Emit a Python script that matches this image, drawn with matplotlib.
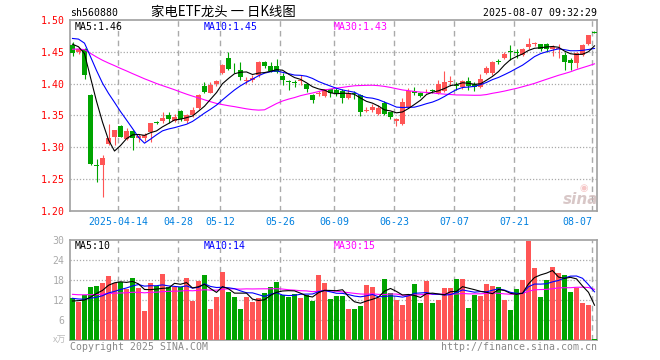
import matplotlib
matplotlib.use("Agg")
import matplotlib.pyplot as plt
import numpy as np

# ---------------- data ----------------
dates = ["04-01","04-02","04-03","04-07","04-08","04-09","04-10","04-11","04-14","04-15",
         "04-16","04-17","04-18","04-21","04-22","04-23","04-24","04-25","04-28","04-29",
         "04-30","05-06","05-07","05-08","05-09","05-12","05-13","05-14","05-15","05-16",
         "05-19","05-20","05-21","05-22","05-23","05-26","05-27","05-28","05-29","05-30",
         "06-03","06-04","06-05","06-06","06-09","06-10","06-11","06-12","06-13","06-16",
         "06-17","06-18","06-19","06-20","06-23","06-24","06-25","06-26","06-27","06-30",
         "07-01","07-02","07-03","07-04","07-07","07-08","07-09","07-10","07-11","07-14",
         "07-15","07-16","07-17","07-18","07-21","07-22","07-23","07-24","07-25","07-28",
         "07-29","07-30","07-31","08-01","08-04","08-05","08-06","08-07"]

opens = [1.460,1.450,1.454,1.382,1.273,1.272,1.305,1.316,1.334,1.313,
         1.325,1.315,1.315,1.324,1.340,1.341,1.351,1.342,1.357,1.341,
         1.350,1.362,1.396,1.386,1.399,1.417,1.441,1.425,1.422,1.404,
         1.406,1.414,1.434,1.427,1.428,1.412,1.404,1.402,1.404,1.400,
         1.382,1.384,1.381,1.391,1.390,1.389,1.378,1.385,1.382,1.357,
         1.358,1.352,1.369,1.355,1.342,1.337,1.363,1.389,1.385,1.388,
         1.390,1.385,1.389,1.402,1.398,1.394,1.404,1.400,1.395,1.417,
         1.416,1.435,1.440,1.451,1.449,1.445,1.457,1.463,1.462,1.462,
         1.454,1.455,1.445,1.437,1.433,1.445,1.462,1.481]
closes = [1.448,1.455,1.414,1.274,1.271,1.284,1.315,1.327,1.317,1.325,
          1.314,1.318,1.320,1.338,1.339,1.346,1.344,1.348,1.344,1.351,
          1.359,1.382,1.387,1.398,1.404,1.429,1.423,1.424,1.410,1.406,
          1.409,1.434,1.428,1.420,1.419,1.405,1.403,1.401,1.406,1.392,
          1.374,1.386,1.391,1.385,1.385,1.378,1.385,1.383,1.356,1.359,
          1.364,1.362,1.353,1.348,1.344,1.371,1.389,1.385,1.381,1.389,
          1.389,1.400,1.403,1.404,1.396,1.404,1.396,1.395,1.408,1.424,
          1.434,1.434,1.447,1.450,1.448,1.454,1.462,1.464,1.454,1.454,
          1.458,1.456,1.434,1.433,1.448,1.460,1.476,1.480]
highs = [1.466,1.458,1.456,1.383,1.281,1.288,1.336,1.328,1.335,1.330,
         1.327,1.321,1.323,1.339,1.341,1.356,1.355,1.352,1.358,1.353,
         1.364,1.384,1.403,1.403,1.406,1.431,1.449,1.433,1.434,1.410,
         1.413,1.436,1.435,1.434,1.438,1.416,1.405,1.405,1.413,1.401,
         1.383,1.389,1.392,1.392,1.393,1.391,1.391,1.389,1.384,1.363,
         1.368,1.366,1.372,1.356,1.346,1.378,1.393,1.395,1.387,1.391,
         1.392,1.406,1.420,1.412,1.403,1.406,1.410,1.402,1.415,1.428,
         1.436,1.438,1.450,1.461,1.455,1.456,1.471,1.466,1.463,1.464,
         1.460,1.463,1.450,1.440,1.449,1.462,1.477,1.482]
lows = [1.443,1.446,1.407,1.272,1.246,1.222,1.304,1.303,1.316,1.311,
        1.296,1.308,1.310,1.308,1.336,1.339,1.338,1.340,1.342,1.339,
        1.348,1.360,1.385,1.385,1.396,1.415,1.421,1.417,1.405,1.399,
        1.402,1.411,1.425,1.418,1.417,1.398,1.390,1.394,1.398,1.387,
        1.369,1.380,1.379,1.379,1.380,1.369,1.376,1.376,1.349,1.355,
        1.356,1.351,1.350,1.344,1.333,1.335,1.362,1.382,1.379,1.385,
        1.385,1.384,1.387,1.396,1.390,1.392,1.390,1.389,1.393,1.415,
        1.414,1.431,1.439,1.437,1.441,1.443,1.455,1.459,1.451,1.450,
        1.443,1.441,1.421,1.421,1.424,1.443,1.460,1.479]
volumes = [12.5,11.5,13.5,16.0,16.2,17.2,19.2,17.2,17.5,15.3,
           18.7,15.5,8.8,17.2,16.2,19.8,16.0,15.8,15.8,18.7,
           11.8,17.8,19.5,9.3,13.0,20.5,14.5,13.0,9.3,13.0,
           11.5,12.5,14.0,16.0,17.5,13.5,13.0,13.7,12.5,13.5,
           11.8,19.5,17.2,12.3,13.2,13.2,9.3,9.3,10.2,16.5,
           15.8,12.5,18.3,14.2,12.0,10.5,13.3,16.8,11.2,17.8,
           11.2,12.0,15.7,15.7,18.3,18.3,9.7,13.5,13.2,16.8,
           16.3,15.9,12.0,9.0,15.3,18.0,29.8,21.6,12.9,18.0,
           21.9,20.0,19.6,14.5,15.7,11.2,10.5,0.3]

# estimated sessions before the visible window (needed for the moving averages)
prev_closes = [1.440,1.445,1.450,1.442,1.438,1.446,1.449,1.447,
               1.444,1.441,1.439,1.443,1.448,1.452,1.445,1.440,1.446,1.450,1.452,1.453,
               1.465,1.478,1.486,1.488,1.483,
               1.475,1.468,1.462,1.457]
prev_volumes = [15.2,13.8,14.6,16.1,13.2,12.9,14.8,15.5,13.6,14.0,
                15.9,13.4,12.7,14.9,15.1,13.3,14.2,14.6,13.9,14.3,
                13.5,14.2,12.8,13.6,12.4,
                11.0,12.5,11.8,10.7]

tick_dates = ["04-14","04-28","05-12","05-26","06-09","06-23","07-07","07-21","08-07"]
tick_labels = ["2025-04-14","04-28","05-12","05-26","06-09","06-23","07-07","07-21","08-07"]
price_ticks = [1.20,1.25,1.30,1.35,1.40,1.45,1.50]
vol_ticks = [6,12,18,24,30]

# ---------------- style ----------------
RED = "#ff5555"
GREEN = "#00a400"
GRID = "#aaaaaa"
FRAME = "#a0a0a0"
MONO = "DejaVu Sans Mono"
CJK = ["Noto Sans CJK SC", "DejaVu Sans"]
FS = 7.1

W, H = 660, 360
fig = plt.figure(figsize=(W/100, H/100), dpi=100)
fig.patch.set_facecolor("white")

def frac(x0, y0, x1, y1):
    return [x0/W, 1 - y1/H, (x1-x0)/W, (y1-y0)/H]

axp = fig.add_axes(frac(70, 20, 597, 211))
axv = fig.add_axes(frac(70, 240, 597, 340))

n = len(dates)
x = np.arange(n)
half = 2.5/6.0
xlim = (-half, n - 1 + (597 - 72.5 - 6*(n-1)) / 6.0)

def ma(values, prev, k):
    full = np.array(list(prev) + list(values), dtype=float)
    off = len(prev)
    return np.array([full[off+i-k+1:off+i+1].mean() for i in range(len(values))])

o = np.array(opens); c = np.array(closes); h = np.array(highs); l = np.array(lows)
v = np.array(volumes)
colors = [RED if cc >= oo else GREEN for oo, cc in zip(o, c)]
bw = 5/6.0
LW = 0.8

for ax in (axp, axv):
    ax.set_xlim(*xlim)
    for s in ax.spines.values():
        s.set_color(FRAME)
        s.set_linewidth(1.2)
    ax.tick_params(axis="both", length=0)
    ax.set_xticks([])
    tick_pos = [dates.index(d) - half for d in tick_dates]
    for tp in tick_pos:
        ax.axvline(tp, color=GRID, lw=1.0, ls=(0, (4, 3)), zorder=0)

# price panel
axp.set_ylim(1.20, 1.50)
for p in price_ticks[1:-1]:
    axp.axhline(p, color=GRID, lw=0.9, ls=(0, (1, 1.5)), zorder=0)
axp.vlines(x, l, h, colors=colors, lw=LW, zorder=2)
body_h = np.maximum(np.abs(c - o), 0.0012)
axp.bar(x, body_h, bottom=np.minimum(o, c), width=bw, color=colors, lw=0, zorder=3)
axp.plot(x, ma(closes, prev_closes, 30), color="#ff00ff", lw=LW, zorder=4)
axp.plot(x, ma(closes, prev_closes, 10), color="#0000ff", lw=LW, zorder=4)
axp.plot(x, ma(closes, prev_closes, 5), color="black", lw=LW, zorder=4)
axp.set_yticks(price_ticks)
axp.set_yticklabels([f"{p:.2f}" for p in price_ticks], color="#ff0000",
                    family=MONO, fontsize=FS)
axp.tick_params(axis="y", pad=4)

# volume panel
axv.set_ylim(0, 30)
for t in vol_ticks[:-1]:
    axv.axhline(t, color=GRID, lw=0.9, ls=(0, (1, 1.5)), zorder=0)
axv.bar(x, v, width=bw, color=colors, lw=0, zorder=3)
axv.plot(x, ma(volumes, prev_volumes, 30), color="#ff00ff", lw=LW, zorder=4)
axv.plot(x, ma(volumes, prev_volumes, 10), color="#0000ff", lw=LW, zorder=4)
axv.plot(x, ma(volumes, prev_volumes, 5), color="black", lw=LW, zorder=4)
axv.set_yticks(vol_ticks)
axv.set_yticklabels([str(t) for t in vol_ticks], color="#aaaaaa", family=MONO, fontsize=FS)
axv.tick_params(axis="y", pad=4)

# date labels
for k, (d, lab) in enumerate(zip(tick_dates, tick_labels)):
    xi = dates.index(d) - half
    last = (k == len(tick_dates) - 1)
    axp.annotate(lab, xy=(xi, 0), xycoords=("data", "axes fraction"),
                 xytext=(0, -8), textcoords="offset points",
                 ha="right" if last else "center", va="center",
                 color="#0080e0", family=MONO, fontsize=FS)

def ftext(px, py, s, **kw):
    fig.text(px/W, 1 - py/H, s, **kw)

ftext(70, 13, "sh560880", ha="left", va="center", family=MONO, fontsize=FS, color="black")
ftext(223, 12, "家电ETF龙头 一 日K线图", ha="center", va="center", family=CJK,
      fontsize=9.6, color="black")
ftext(597, 13, "2025-08-07 09:32:29", ha="right", va="center", family=MONO,
      fontsize=FS, color="black")

ftext(75, 27, "MA5:1.46", ha="left", va="center", family=MONO, fontsize=FS, color="black")
ftext(204, 27, "MA10:1.45", ha="left", va="center", family=MONO, fontsize=FS, color="#0000ff")
ftext(334, 27, "MA30:1.43", ha="left", va="center", family=MONO, fontsize=FS, color="#ff00ff")

ftext(75, 246, "MA5:10", ha="left", va="center", family=MONO, fontsize=FS, color="black")
ftext(204, 246, "MA10:14", ha="left", va="center", family=MONO, fontsize=FS, color="#0000ff")
ftext(334, 246, "MA30:15", ha="left", va="center", family=MONO, fontsize=FS, color="#ff00ff")

ftext(66, 340, "x万", ha="right", va="center", family=CJK, fontsize=6.5, color="#bbbbbb")
ftext(70, 347, "Copyright 2025 SINA.COM", ha="left", va="center", family=MONO,
      fontsize=FS, color="#888888")
ftext(597, 347, "http://finance.sina.com.cn", ha="right", va="center", family=MONO,
      fontsize=FS, color="#888888")

# sina watermark
ftext(581, 199, "sina", ha="center", va="center", family="DejaVu Sans",
      fontsize=11, fontweight="bold", fontstyle="italic", color="#c8b0b0", alpha=0.7)
ftext(584, 188, "◉", ha="center", va="center", family="DejaVu Sans",
      fontsize=7, color="#f0a0a0", alpha=0.6)

fig.savefig("out.png", dpi=100, facecolor="white")
